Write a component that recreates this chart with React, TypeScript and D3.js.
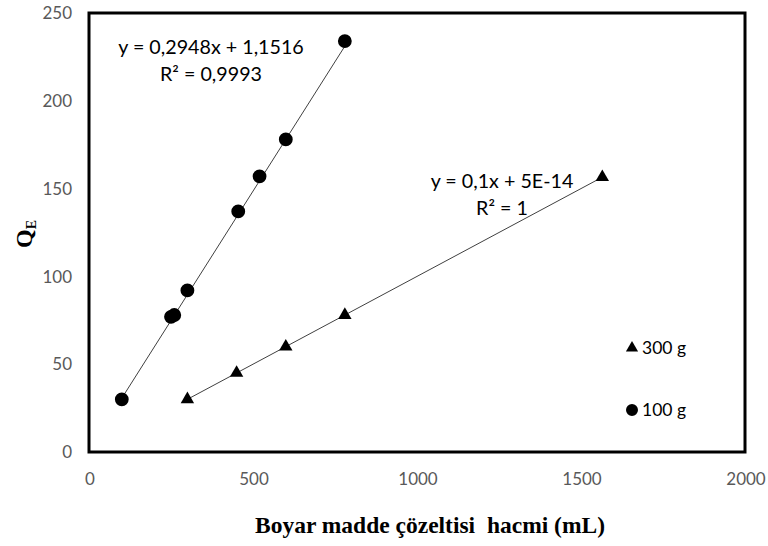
import React, { useEffect, useRef } from "react";
import * as d3 from "d3";

const xTicks = [0, 500, 1000, 1500, 2000];
const yTicks = [0, 50, 100, 150, 200, 250];

// 100 g series (circles)
const volume100 = [100, 250, 260, 300, 455, 520, 600, 780];
const qe100 = [30, 77, 78, 92, 137, 157, 178, 234];

// 300 g series (triangles)
const volume300 = [300, 450, 600, 780, 1565];
const qe300 = [30, 45, 60, 78, 156.5];

const fit100 = { slope: 0.2948, intercept: 1.1516 };
const fit300 = { slope: 0.1, intercept: 0 };

const eq100 = ["y = 0,2948x + 1,1516", "R² = 0,9993"];
const eq300 = ["y = 0,1x + 5E-14", "R² = 1"];

const legendLabels = ["300 g", "100 g"];

const W = 768;
const H = 546;
const margin = { left: 89, right: 23, top: 13, bottom: 94 };

const App = () => {
  const ref = useRef<SVGGElement>(null);

  useEffect(() => {
    const g = d3.select(ref.current);
    g.selectAll("*").remove();

    const x = d3.scaleLinear().domain([0, 2000]).range([margin.left, W - margin.right]);
    const y = d3.scaleLinear().domain([0, 250]).range([H - margin.bottom, margin.top]);
    const font = "Lato, 'Open Sans', sans-serif";
    const serif = "'Liberation Serif', 'Times New Roman', serif";

    // y tick labels
    g.selectAll("text.ytick")
      .data(yTicks)
      .enter()
      .append("text")
      .attr("class", "ytick")
      .attr("x", margin.left - 17)
      .attr("y", d => y(d))
      .attr("dy", "0.36em")
      .attr("text-anchor", "end")
      .style("font-family", font)
      .style("font-size", "17px")
      .style("fill", "#595959")
      .text(d => d);

    // x tick labels
    g.selectAll("text.xtick")
      .data(xTicks)
      .enter()
      .append("text")
      .attr("class", "xtick")
      .attr("x", d => x(d) + 1)
      .attr("y", 485)
      .attr("text-anchor", "middle")
      .style("font-family", font)
      .style("font-size", "17px")
      .style("fill", "#595959")
      .text(d => d);

    // trendlines
    const trend = (vals: number[], fit: { slope: number; intercept: number }) => {
      const [x0, x1] = d3.extent(vals) as [number, number];
      g.append("line")
        .attr("x1", x(x0))
        .attr("y1", y(fit.slope * x0 + fit.intercept))
        .attr("x2", x(x1))
        .attr("y2", y(fit.slope * x1 + fit.intercept))
        .attr("stroke", "#404040")
        .attr("stroke-width", 1);
    };
    trend(volume100, fit100);
    trend(volume300, fit300);

    const circle = d3.symbol().type(d3.symbolCircle).size(150);
    const triangle = d3.symbol().type(d3.symbolTriangle).size(78);

    g.selectAll("path.p100")
      .data(volume100)
      .enter()
      .append("path")
      .attr("class", "p100")
      .attr("d", circle)
      .attr("transform", (d, i) => `translate(${x(d)},${y(qe100[i])})`)
      .attr("fill", "#000");

    g.selectAll("path.p300")
      .data(volume300)
      .enter()
      .append("path")
      .attr("class", "p300")
      .attr("d", triangle)
      .attr("transform", (d, i) => `translate(${x(d)},${y(qe300[i])})`)
      .attr("fill", "#000");

    // equation labels
    const eq = (lines: string[], cx: number, cy: number) => {
      lines.forEach((t, i) => {
        g.append("text")
          .attr("x", cx)
          .attr("y", cy + i * 27)
          .attr("text-anchor", "middle")
          .style("font-family", font)
          .style("font-size", "19.7px")
          .style("fill", "#000")
          .text(t);
      });
    };
    eq(eq100, 211, 54);
    eq(eq300, 502, 188);

    // plot border
    g.append("rect")
      .attr("x", margin.left)
      .attr("y", margin.top)
      .attr("width", W - margin.left - margin.right)
      .attr("height", H - margin.top - margin.bottom)
      .attr("fill", "none")
      .attr("stroke", "#000")
      .attr("stroke-width", 3);

    // legend
    const lx = 632;
    const legendY = [348, 410];
    const legend = g.append("g");
    legend.append("path")
      .attr("d", d3.symbol().type(d3.symbolTriangle).size(64))
      .attr("transform", `translate(${lx},${legendY[0]})`);
    legend.append("path")
      .attr("d", d3.symbol().type(d3.symbolCircle).size(113))
      .attr("transform", `translate(${lx},${legendY[1]})`);
    legendLabels.forEach((t, i) => {
      legend.append("text")
        .attr("x", lx + 10)
        .attr("y", legendY[i])
        .attr("dy", "0.36em")
        .style("font-family", font)
        .style("font-size", "17.5px")
        .style("fill", "#000")
        .text(t);
    });

    // axis titles
    g.append("text")
      .attr("x", 430)
      .attr("y", 533)
      .attr("text-anchor", "middle")
      .style("font-family", serif)
      .style("font-weight", "bold")
      .style("font-size", "23.5px")
      .style("white-space", "pre")
      .text("Boyar madde çözeltisi  hacmi (mL)");

    const yt = g.append("text")
      .attr("transform", "translate(32,234) rotate(-90)")
      .attr("text-anchor", "middle")
      .style("font-family", serif)
      .style("font-weight", "bold")
      .style("font-size", "24px");
    yt.append("tspan").text("Q");
    yt.append("tspan").attr("dy", 4).style("font-size", "14px").text("E");
  }, []);

  return (
    <svg width={W} height={H} style={{ position: "absolute", left: 0, top: 0 }}>
      <rect width={W} height={H} fill="#fff" />
      <g ref={ref} />
    </svg>
  );
};

export default App;
